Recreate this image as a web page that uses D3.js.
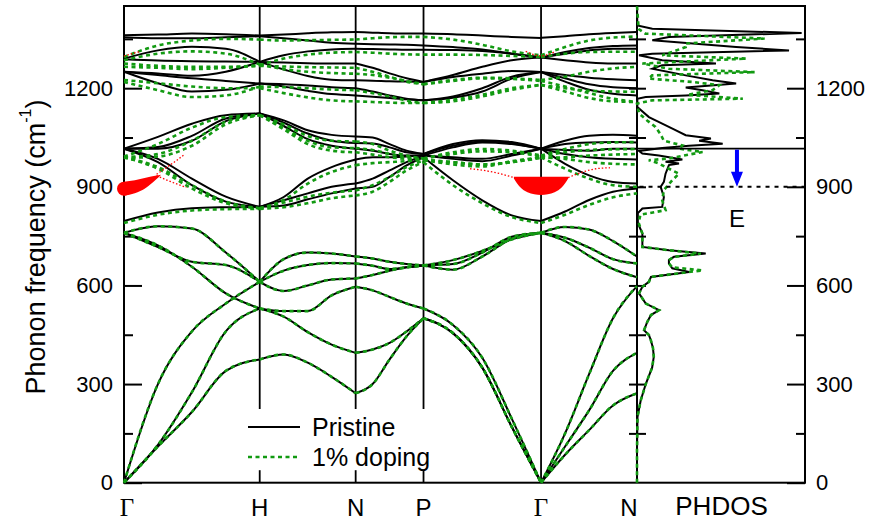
<!DOCTYPE html>
<html>
<head>
<meta charset="utf-8">
<script src="https://cdn.jsdelivr.net/npm/d3@7"></script>
<style>
  body { margin: 0; background: #fff; }
  svg { display: block; font-family: Arial, "Liberation Sans", sans-serif; }
</style>
</head>
<body>
<div id="chart"></div>
<script>
////////////////////////////////////////////////////////////
//////////////////////// Data //////////////////////////////
////////////////////////////////////////////////////////////

// high symmetry points along the path (units of 2pi/a)
var kNodes = [0, 1, 1.707, 2.207, 3.073, 3.780];
var kLabels = ["Γ", "H", "N", "P", "Γ", "N"];
// every band is read at the node and at the quarter points of each segment
var kGrid = [0, 0.25, 0.5, 0.75, 1, 1.177, 1.354, 1.530, 1.707, 1.832, 1.957, 2.082, 2.207,
    2.424, 2.640, 2.857, 3.073, 3.250, 3.427, 3.603, 3.780];

// Pristine bands (cm-1)
var pristineLow = [
    [0, 110, 215, 340, 375, 390, 365, 322, 272, 300, 375, 445, 500, 455, 350, 170, 0, 85, 160, 235, 272],
    [0, 115, 275, 460, 530, 505, 458, 420, 395, 405, 425, 460, 500, 455, 350, 170, 0, 110, 220, 340, 395],
    [0, 300, 460, 545, 611, 583, 600, 618, 621, 632, 645, 655, 661, 648, 688, 742, 760, 735, 690, 650, 625],
    [760, 780, 773, 700, 611, 645, 662, 668, 667, 660, 650, 655, 661, 677, 705, 740, 760, 745, 715, 680, 667],
    [760, 717, 672, 662, 611, 680, 700, 697, 688, 682, 672, 665, 661, 665, 700, 748, 760, 778, 770, 735, 688],
    [760, 722, 657, 576, 530, 522, 522, 570, 596, 585, 565, 545, 530, 480, 380, 195, 0, 150, 330, 500, 598]
];
var pristineMid = [
    [796, 822, 835, 838, 839, 843, 862, 880, 895, 900, 930, 965, 990, 920, 859, 813, 796, 825, 860, 885, 895],
    [1016, 985, 925, 870, 839, 859, 880, 900, 910, 925, 950, 975, 995, 990, 985, 1000, 1016, 970, 935, 915, 910],
    [1016, 975, 905, 855, 839, 869, 925, 960, 983, 990, 990, 992, 995, 985, 978, 995, 1016, 1000, 990, 985, 983],
    [1016, 1052, 1092, 1118, 1123, 1102, 1072, 1058, 1053, 1050, 1030, 1010, 1000, 1030, 1042, 1036, 1016, 1040, 1055, 1058, 1055],
    [1016, 1021, 1055, 1108, 1123, 1095, 1062, 1040, 1033, 1032, 1020, 1005, 1000, 1025, 1038, 1032, 1016, 1030, 1035, 1036, 1035],
    [1016, 1016, 1040, 1100, 1123, 1085, 1045, 1025, 1016, 1010, 1000, 995, 995, 1020, 1035, 1030, 1016, 1012, 1010, 1016, 1016]
];
var pristineTop = [
    [1361, 1363, 1366, 1364, 1360, 1363, 1367, 1370, 1371, 1369, 1367, 1366, 1366, 1364, 1360, 1356, 1353, 1358, 1364, 1368, 1371],
    [1355, 1352, 1352, 1355, 1358, 1352, 1345, 1338, 1335, 1334, 1333, 1332, 1330, 1325, 1318, 1305, 1293, 1310, 1322, 1328, 1330],
    [1290, 1315, 1326, 1320, 1280, 1257, 1237, 1226, 1224, 1223, 1221, 1220, 1219, 1240, 1265, 1285, 1293, 1285, 1278, 1275, 1275],
    [1288, 1284, 1282, 1281, 1280, 1300, 1312, 1318, 1320, 1319, 1318, 1317, 1317, 1316, 1313, 1305, 1293, 1305, 1315, 1320, 1320],
    [1250, 1245, 1238, 1250, 1280, 1278, 1276, 1275, 1275, 1262, 1245, 1230, 1219, 1234, 1244, 1252, 1249, 1240, 1232, 1227, 1224],
    [1250, 1215, 1190, 1195, 1214, 1212, 1208, 1203, 1200, 1190, 1178, 1168, 1163, 1171, 1190, 1229, 1249, 1230, 1212, 1203, 1200],
    [1250, 1240, 1230, 1222, 1214, 1205, 1192, 1182, 1178, 1174, 1170, 1166, 1163, 1175, 1200, 1235, 1249, 1220, 1195, 1183, 1178]
];

// 1% doping: the lower bands coincide with the pristine ones
var dopedLow = pristineLow;
var dopedMid = [
    [790, 815, 828, 832, 833, 838, 850, 865, 874, 885, 915, 950, 975, 905, 850, 808, 790, 815, 845, 868, 880],
    [990, 960, 905, 855, 835, 852, 870, 882, 889, 905, 930, 960, 980, 975, 968, 975, 990, 955, 925, 905, 900],
    [990, 955, 895, 850, 835, 860, 910, 945, 966, 972, 975, 978, 982, 968, 962, 978, 990, 985, 975, 970, 968],
    [992, 1030, 1080, 1112, 1118, 1090, 1055, 1040, 1038, 1030, 1010, 995, 986, 1005, 1015, 1010, 995, 1015, 1030, 1035, 1036],
    [990, 1000, 1040, 1098, 1118, 1080, 1040, 1020, 1018, 1012, 1000, 990, 985, 1000, 1008, 1005, 992, 1005, 1012, 1014, 1015],
    [988, 992, 1025, 1090, 1118, 1075, 1030, 1010, 1005, 998, 990, 985, 983, 975, 968, 975, 988, 990, 995, 998, 1000]
];
var dopedTop = [
    [1295, 1330, 1345, 1350, 1348, 1345, 1346, 1347, 1348, 1352, 1355, 1356, 1356, 1348, 1332, 1312, 1300, 1325, 1345, 1354, 1357],
    [1285, 1305, 1312, 1305, 1272, 1258, 1250, 1246, 1244, 1240, 1232, 1222, 1212, 1222, 1230, 1228, 1222, 1205, 1185, 1168, 1158],
    [1275, 1268, 1265, 1265, 1270, 1290, 1302, 1308, 1310, 1308, 1305, 1303, 1302, 1302, 1301, 1298, 1295, 1305, 1310, 1311, 1311],
    [1265, 1262, 1258, 1262, 1268, 1266, 1264, 1263, 1262, 1250, 1235, 1220, 1212, 1225, 1232, 1230, 1225, 1235, 1250, 1260, 1265],
    [1219, 1194, 1173, 1178, 1205, 1203, 1200, 1196, 1194, 1185, 1175, 1162, 1155, 1165, 1180, 1200, 1210, 1200, 1192, 1190, 1189],
    [1225, 1215, 1205, 1200, 1200, 1185, 1172, 1163, 1160, 1158, 1156, 1155, 1155, 1160, 1175, 1195, 1210, 1190, 1170, 1160, 1158]
];

// weight of the dopant mode near Gamma (red)
var impLeftK = [0, 0.08, 0.16, 0.24, 0.27];
var impLeftF = [894, 900, 912, 929, 936];
var impLeftW = [7, 6.5, 5.2, 1.8, 0.3];
var impRightK = [2.873, 2.918, 2.973, 3.023, 3.073, 3.123, 3.173, 3.228, 3.273];
var impRightF = [928, 915, 907, 904, 903, 904, 907, 915, 928];
var impRightW = [0.8, 5.2, 7.7, 8.8, 9.2, 8.8, 7.7, 5.2, 0.8];
var redTrailK = [[0.24, 0.31, 0.39, 0.45], [0.24, 0.33, 0.46], [2.873, 2.75, 2.65, 2.55],
    [3.273, 3.38, 3.48, 3.58], [0, 0.06, 0.12], [2.96, 3.02, 3.073, 3.12, 3.18]];
var redTrailF = [[938, 958, 981, 1000], [934, 918, 898], [928, 942, 950, 955],
    [928, 945, 955, 958], [1298, 1305, 1312], [1312, 1302, 1298, 1302, 1312]];

// phonon density of states (arb. units)
var dosPristineF = [0, 100, 200, 250, 300, 350, 383, 410, 434, 449, 464, 489, 510, 525, 545, 576, 596, 611, 626,
    641, 652, 667, 677, 687, 697, 707, 717, 758, 790, 820, 834, 839, 869, 900, 915, 940, 966, 971, 976, 983,
    995, 1001, 1009, 1018, 1025, 1031, 1040, 1047, 1057, 1075, 1092, 1112, 1143, 1168, 1173, 1178, 1184, 1194,
    1202, 1214, 1224, 1239, 1259, 1270, 1275, 1285, 1300, 1305, 1315, 1325, 1346, 1356, 1368, 1381, 1391, 1450];
var dosPristine = [0, 0, 0.03, 0.22, 0.52, 0.9, 1.0, 0.95, 0.82, 0.71, 0.42, 0.61, 0.83, 1.31, 0.52, 0.12, 0.32, 0.71, 0.83,
    3.1, 2.1, 1.9, 1.9, 2.2, 4.09, 1.9, 0.32, 0.32, 0.05, 0.05, 0.32, 1.5, 1.6, 1.41, 1.6, 1.7, 1.9, 2.5, 1.7, 2.7,
    1.3, 0.32, 0.12, 1.5, 3.1, 5.1, 3.7, 4.4, 2.9, 2.2, 1.5, 0.71, 0.02, 0.02, 0.52, 2.9, 4.9, 3.9,
    2.9, 5.9, 4.5, 2.9, 0.91, 1.5, 4.7, 1.5, 0.12, 0.91, 9.05, 5.9, 0.91, 1.9, 9.8, 0.91, 0.02, 0];
var dosDopedF = [0, 100, 200, 250, 300, 350, 383, 410, 434, 449, 464, 489, 510, 525, 545, 576, 596, 611, 626,
    646, 655, 667, 677, 687, 697, 707, 717, 758, 790, 815, 829, 859, 890, 920, 940, 960, 971, 981, 986, 1006,
    1016, 1026, 1040, 1060, 1082, 1102, 1123, 1153, 1163, 1168, 1180, 1194, 1209, 1219, 1229, 1239, 1249, 1259,
    1275, 1290, 1300, 1325, 1336, 1351, 1366, 1380, 1450];
var dosDoped = [0, 0, 0.03, 0.22, 0.52, 0.9, 1.0, 0.95, 0.82, 0.71, 0.42, 0.61, 0.83, 1.31, 0.52, 0.12, 0.32, 0.71, 0.83,
    3.9, 2.1, 1.9, 1.9, 2.2, 3.8, 1.9, 0.32, 0.32, 0.1, 0.2, 1.7, 1.5, 1.6, 2.1, 2.5, 1.7, 1.3, 0.7, 1.9, 3.9,
    2.5, 2.7, 1.6, 1.4, 1.1, 0.6, 0.12, 0, 0.9, 6.3, 3.0, 4.5, 4.9, 3.3, 0.7, 0.9, 7.0, 1.9,
    0.32, 6.5, 1.5, 2.9, 2.9, 7.6, 0.5, 0.1, 0];

// levels marked in the PHDOS panel
var levelTop = 1016, levelE = 900;

var yMajor = [0, 300, 600, 900, 1200];
var yMinor = [150, 450, 750, 1050, 1350];
var yAll = [150, 300, 450, 600, 750, 900, 1050, 1200, 1350];

////////////////////////////////////////////////////////////
//////////////////////// Set-up ////////////////////////////
////////////////////////////////////////////////////////////

var width = 872, height = 525;
var xL = 124, xM = 637, xR = 805, yT = 6, yB = 482.7;

var svg = d3.select("#chart").append("svg")
    .attr("width", width)
    .attr("height", height);

var x = d3.scaleLinear().domain([0, kNodes[kNodes.length - 1]]).range([xL, xM]);
var xDos = d3.scaleLinear().domain([0, 10]).range([xM, xR]);
var y = d3.scaleLinear().domain([0, 1450]).range([yB, yT]);
var r = d3.scaleLinear().domain([0, 10]).range([0, 10]);

var green = "#129a12";
var fmt = d3.format("d");

////////////////////////////////////////////////////////////
//////////////////////// Axes //////////////////////////////
////////////////////////////////////////////////////////////

function styleAxis(g) {
    g.select(".domain").remove();
    g.selectAll("line").attr("stroke", "#000").attr("stroke-width", 2);
    g.selectAll("text").attr("font-size", 22).attr("fill", "#000")
        .attr("font-family", "Arial, 'Liberation Sans', sans-serif");
}

svg.append("g").attr("transform", "translate(" + xL + ",0)")
    .call(d3.axisLeft(y).tickValues(yMajor).tickFormat(fmt).tickSize(-18).tickPadding(11)).call(styleAxis);
svg.append("g").attr("transform", "translate(" + xL + ",0)")
    .call(d3.axisLeft(y).tickValues(yMinor).tickSize(-9).tickFormat("")).call(styleAxis);
svg.append("g").attr("transform", "translate(" + xR + ",0)")
    .call(d3.axisRight(y).tickValues(yMajor).tickFormat(fmt).tickSize(-18).tickPadding(11)).call(styleAxis);
svg.append("g").attr("transform", "translate(" + xR + ",0)")
    .call(d3.axisRight(y).tickValues(yMinor).tickSize(-9).tickFormat("")).call(styleAxis);
// ticks on both sides of the shared border
svg.append("g").attr("transform", "translate(" + xM + ",0)")
    .call(d3.axisLeft(y).tickValues(yAll).tickSize(8).tickFormat("")).call(styleAxis);
svg.append("g").attr("transform", "translate(" + xM + ",0)")
    .call(d3.axisRight(y).tickValues(yAll).tickSize(9).tickFormat("")).call(styleAxis);

// high symmetry lines
kNodes.slice(1, -1).forEach(function (k, i) {
    var full = kLabels[i + 1] === "Γ";
    svg.append("line").attr("x1", x(k)).attr("x2", x(k))
        .attr("y1", yT).attr("y2", full ? yB : 409)
        .attr("stroke", "#000").attr("stroke-width", 1.8);
    if (!full) {
        svg.append("line").attr("x1", x(k)).attr("x2", x(k))
            .attr("y1", yB - 12.5).attr("y2", yB)
            .attr("stroke", "#000").attr("stroke-width", 1.8);
    }
});

// frame
svg.append("rect").attr("x", xL).attr("y", yT)
    .attr("width", xR - xL).attr("height", yB - yT)
    .attr("fill", "none").attr("stroke", "#000").attr("stroke-width", 2);
svg.append("line").attr("x1", xM).attr("x2", xM).attr("y1", yT).attr("y2", yB)
    .attr("stroke", "#000").attr("stroke-width", 2);

////////////////////////////////////////////////////////////
//////////////////////// Bands /////////////////////////////
////////////////////////////////////////////////////////////

var bandLine = d3.line()
    .x(function (d) { return x(d[0]); })
    .y(function (d) { return y(d[1]); })
    .curve(d3.curveMonotoneX);

function drawBands(rows, color, dash, w) {
    var g = svg.append("g");
    rows.forEach(function (row) {
        //one path per segment so the kinks at the nodes stay sharp
        for (var s = 0; s < kNodes.length - 1; s++) {
            var pts = d3.range(s * 4, s * 4 + 5).map(function (i) { return [kGrid[i], row[i]]; });
            g.append("path").datum(pts)
                .attr("d", bandLine)
                .attr("fill", "none")
                .attr("stroke", color)
                .attr("stroke-width", w)
                .attr("stroke-dasharray", dash);
        }
    });
}

drawBands(pristineLow, "#000", null, 2);
drawBands(pristineMid, "#000", null, 2);
drawBands(pristineTop, "#000", null, 2);
drawBands(dopedLow, green, "4,3.5", 2.6);
drawBands(dopedMid, green, "4,3.5", 2.6);
drawBands(dopedTop, green, "4,3.5", 2.6);

////////////////////////////////////////////////////////////
/////////////////////// Dopant mode ////////////////////////
////////////////////////////////////////////////////////////

var impArea = d3.area()
    .x(function (d) { return x(d.k); })
    .y0(function (d) { return y(d.f) + r(d.w); })
    .y1(function (d) { return y(d.f) - r(d.w); })
    .curve(d3.curveMonotoneX);

function zipImp(K, F, W) {
    return K.map(function (k, i) { return { k: k, f: F[i], w: W[i] }; });
}

redTrailK.forEach(function (K, j) {
    var pts = K.map(function (k, i) { return [k, redTrailF[j][i]]; })
        .sort(function (a, b) { return a[0] - b[0]; });
    svg.append("path").datum(pts)
        .attr("d", bandLine)
        .attr("fill", "none")
        .attr("stroke", "#ff0000")
        .attr("stroke-width", 1.3)
        .attr("stroke-dasharray", "1.5,2");
});

svg.append("path").datum(zipImp(impLeftK, impLeftF, impLeftW))
    .attr("d", impArea).attr("fill", "#ff0000");
svg.append("circle")
    .attr("cx", x(impLeftK[0])).attr("cy", y(impLeftF[0])).attr("r", r(impLeftW[0]))
    .attr("fill", "#ff0000");
svg.append("path").datum(zipImp(impRightK, impRightF, impRightW))
    .attr("d", impArea).attr("fill", "#ff0000");

////////////////////////////////////////////////////////////
//////////////////////// PHDOS /////////////////////////////
////////////////////////////////////////////////////////////

var dosLine = d3.line()
    .x(function (d) { return xDos(d[1]); })
    .y(function (d) { return y(d[0]); });

svg.append("path")
    .datum(dosPristineF.map(function (f, i) { return [f, dosPristine[i]]; }))
    .attr("d", dosLine).attr("fill", "none")
    .attr("stroke", "#000").attr("stroke-width", 2);
svg.append("path")
    .datum(dosDopedF.map(function (f, i) { return [f, dosDoped[i]]; }))
    .attr("d", dosLine).attr("fill", "none")
    .attr("stroke", green).attr("stroke-width", 2.6).attr("stroke-dasharray", "4,3.5");

svg.append("line").attr("x1", xM).attr("x2", xR)
    .attr("y1", y(levelTop)).attr("y2", y(levelTop))
    .attr("stroke", "#000").attr("stroke-width", 1.8);
svg.append("line").attr("x1", xDos(0.15)).attr("x2", xR)
    .attr("y1", y(levelE)).attr("y2", y(levelE))
    .attr("stroke", "#000").attr("stroke-width", 2).attr("stroke-dasharray", "4,5");

// arrow from the upper level down to E
var ax = xDos(5.95);
svg.append("line").attr("x1", ax).attr("x2", ax)
    .attr("y1", y(levelTop) + 1).attr("y2", y(levelE) - 13)
    .attr("stroke", "#0000ff").attr("stroke-width", 4);
svg.append("path")
    .attr("d", "M" + (ax - 6) + "," + (y(levelE) - 15) + "L" + (ax + 6) + "," + (y(levelE) - 15) +
        "L" + ax + "," + y(levelE) + "Z")
    .attr("fill", "#0000ff");
svg.append("text").attr("x", ax).attr("y", y(levelE) + 40)
    .attr("text-anchor", "middle").attr("font-size", 24).text("E");

////////////////////////////////////////////////////////////
/////////////////////// Labels /////////////////////////////
////////////////////////////////////////////////////////////

kNodes.forEach(function (k, i) {
    var isG = kLabels[i] === "Γ";
    svg.append("text")
        .attr("x", x(k) + (i === kNodes.length - 1 ? -8 : (i === 0 ? 3 : 0)))
        .attr("y", 516)
        .attr("text-anchor", "middle")
        .attr("font-size", isG ? 25 : 24)
        .attr("font-family", isG ? "'Liberation Serif', 'DejaVu Serif', serif" : "Arial, 'Liberation Sans', sans-serif")
        .text(kLabels[i]);
});
svg.append("text").attr("x", (xM + xR) / 2 + 0.5).attr("y", 515)
    .attr("text-anchor", "middle").attr("font-size", 26).text("PHDOS");

var title = svg.append("text")
    .attr("transform", "translate(45," + 247 + ") rotate(-90)")
    .attr("text-anchor", "middle")
    .attr("font-size", 27);
title.append("tspan").text("Phonon frequency  (cm");
title.append("tspan").attr("font-size", 16).attr("dy", -14).text("-1");
title.append("tspan").attr("dy", 14).text(")");

// legend
var legend = [
    { name: "Pristine", color: "#000", dash: null, w: 2, ly: 427 },
    { name: "1% doping", color: green, dash: "4,3.5", w: 2.6, ly: 457 }
];
legend.forEach(function (d) {
    svg.append("line").attr("x1", 248).attr("x2", 300)
        .attr("y1", d.ly).attr("y2", d.ly)
        .attr("stroke", d.color).attr("stroke-width", d.w).attr("stroke-dasharray", d.dash);
    svg.append("text").attr("x", 312).attr("y", d.ly + 9)
        .attr("font-size", 25).text(d.name);
});
</script>
</body>
</html>
